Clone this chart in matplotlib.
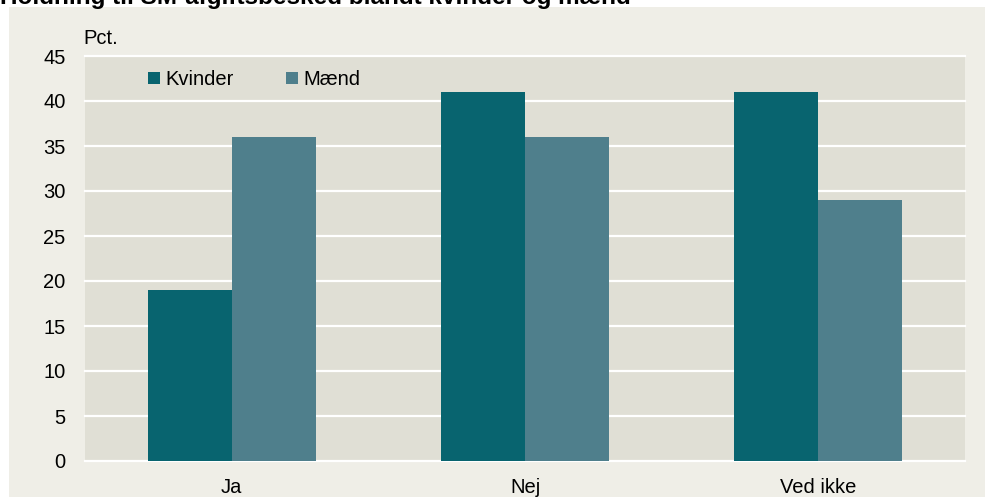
import matplotlib
matplotlib.use("Agg")
import matplotlib.pyplot as plt
import numpy as np

plt.rcParams['font.family'] = ['Liberation Sans', 'DejaVu Sans']

title = "Holdning til SM-afgiftsbesked blandt kvinder og mænd"
categories = ["Ja", "Nej", "Ved ikke"]
series_names = ["Kvinder", "Mænd"]
kvinder = [19, 41, 41]
maend = [36, 36, 29]
colors = ["#08646F", "#4F7F8C"]
yticks = list(range(0, 50, 5))

W, H = 985, 497
fig = plt.figure(figsize=(W / 100, H / 100), dpi=100)
fig.patch.set_facecolor("white")

bg = fig.add_axes([9 / W, 0, 1 - 9 / W, (H - 7) / H], zorder=-10)
bg.set_facecolor("#EFEEE7")
bg.set_xticks([])
bg.set_yticks([])
for s in bg.spines.values():
    s.set_visible(False)

ax = fig.add_axes([85 / W, (H - 461) / H, 880 / W, (461 - 56) / H], zorder=1)
ax.set_facecolor("#E0DFD5")
x = np.arange(len(categories))
bw = 0.286
ax.bar(x - bw / 2, kvinder, width=bw, color=colors[0], label=series_names[0], zorder=3)
ax.bar(x + bw / 2, maend, width=bw, color=colors[1], label=series_names[1], zorder=3)

fs = 14.5
ax.set_xlim(-0.5, len(categories) - 0.5)
ax.set_ylim(0, 45)
ax.set_yticks(yticks)
ax.set_xticks(x)
ax.set_xticklabels(categories)
ax.tick_params(axis="both", length=0, labelsize=fs, colors="black")
ax.tick_params(axis="y", pad=14)
ax.tick_params(axis="x", pad=12)
for s in ax.spines.values():
    s.set_visible(False)
for v in yticks:
    ax.axhline(v, color="white", lw=1.6, zorder=1, clip_on=False)

leg = ax.legend(loc="upper left", bbox_to_anchor=(0.056, 1.0), ncol=2, frameon=False,
                fontsize=fs, handlelength=0.6, handleheight=0.6, handletextpad=0.25,
                columnspacing=2.6, borderaxespad=0.3)

fig.text(83 / W, 1 - 44 / H, "Pct.", fontsize=fs, ha="left", va="baseline")
fig.text(0 / W, 1 - 4 / H, title, fontsize=17.5, fontweight="bold", ha="left", va="baseline")

fig.savefig("out.png", dpi=100, facecolor=fig.get_facecolor())
